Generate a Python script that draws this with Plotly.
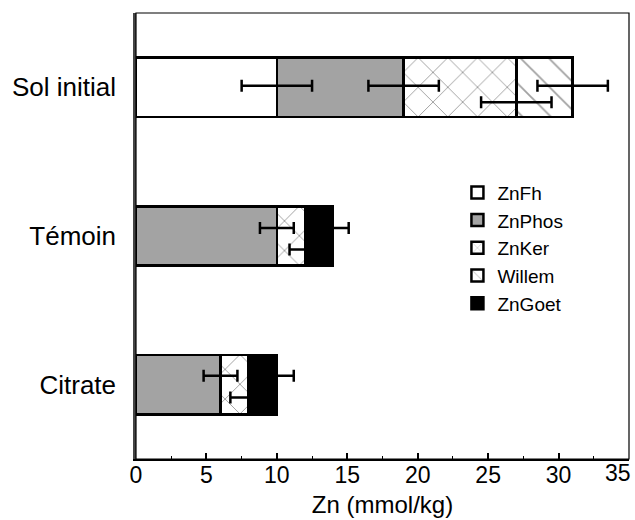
import plotly.graph_objects as go

# ---- data ----
categories = ["Citrate", "Témoin", "Sol initial"]
series_names = ["ZnFh", "ZnPhos", "ZnKer", "Willem", "ZnGoet"]
ZnFh = [None, None, 10]
ZnPhos = [6, 10, 9]
ZnKer = [2, 2, 8]
Willem = [None, None, 4]
ZnGoet = [2, 2, None]
err_ZnFh = [None, None, 2.5]
err_ZnPhos = [1.2, 1.2, 2.5]
err_ZnKer = [1.3, 1.1, 2.5]
err_Willem = [None, None, 2.5]
err_ZnGoet = [1.2, 1.1, None]
x_ticks = [0, 5, 10, 15, 20, 25, 30, 35]
x_ticktext = ["0", "5", "10", "15", "20", "25", "30", "35"]

values = [ZnFh, ZnPhos, ZnKer, Willem, ZnGoet]
errors = [err_ZnFh, err_ZnPhos, err_ZnKer, err_Willem, err_ZnGoet]

# ---- style ----
FONT = "Arial, 'Liberation Sans', sans-serif"
TICK_SIZE = 23
styles = {
    "ZnFh": dict(color="white", pattern=dict(shape="")),
    "ZnPhos": dict(color="#a3a3a3", pattern=dict(shape="")),
    "ZnKer": dict(color="white", pattern=dict(shape="x", fgcolor="#444444", size=21, solidity=0.09)),
    "Willem": dict(color="white", pattern=dict(shape="\\", fgcolor="#444444", size=20, solidity=0.09)),
    "ZnGoet": dict(color="black", pattern=dict(shape="")),
}
# vertical offsets of error bars within each bar (category units), per category
err_offsets = {
    "ZnFh": [0, 0, 0.01],
    "ZnPhos": [0.06, 0.054, 0.01],
    "ZnKer": [-0.086, -0.09, -0.1],
    "Willem": [0, 0, 0.01],
    "ZnGoet": [0.06, 0.054, 0],
}

ypos = list(range(len(categories)))

fig = go.Figure()
for name, vals in zip(series_names, values):
    st = styles[name]
    fig.add_trace(go.Bar(
        y=ypos, x=vals, orientation="h", name=name, width=0.4,
        marker=dict(color=st["color"], pattern=st["pattern"],
                    line=dict(color="black", width=2.5)),
    ))

# error bars at the cumulative end of each segment
cum = [0.0] * len(categories)
for name, vals, errs in zip(series_names, values, errors):
    ends = []
    for i, v in enumerate(vals):
        cum[i] += (v or 0)
        ends.append(cum[i])
    xs, ys, es = [], [], []
    for i, e in enumerate(errs):
        if e is not None:
            xs.append(ends[i])
            ys.append(ypos[i] + err_offsets[name][i])
            es.append(e)
    fig.add_trace(go.Scatter(
        x=xs, y=ys, mode="markers", showlegend=False,
        marker=dict(size=0.1, color="black"),
        error_x=dict(type="data", array=es, visible=True, color="black",
                     thickness=2.5, width=6),
        hoverinfo="skip",
    ))

fig.update_layout(
    width=635, height=520,
    margin=dict(l=136, r=6, t=13, b=61, autoexpand=False),
    barmode="stack",
    plot_bgcolor="white", paper_bgcolor="white",
    font=dict(family=FONT, color="black"),
    showlegend=True,
    legend=dict(x=0.652, y=0.64, xanchor="left", yanchor="top",
                traceorder="normal", font=dict(size=19),
                bgcolor="rgba(0,0,0,0)", itemwidth=30, tracegroupgap=0),
    xaxis=dict(
        range=[0, 35], tickvals=x_ticks[:-1], ticktext=x_ticktext[:-1],
        ticks="inside", ticklen=6, tickwidth=1.5,
        tickcolor="black", showline=True, linecolor="black", linewidth=2,
        showgrid=False, zeroline=False, tickfont=dict(size=TICK_SIZE),
        minor=dict(dtick=2.5, ticks="inside", ticklen=3, tickwidth=1.2, tickcolor="black"),
        title=dict(text="Zn (mmol/kg)", font=dict(size=24), standoff=10),
        automargin=False, ticklabelstandoff=-6,
    ),
    yaxis=dict(
        range=[-0.5, 2.5], tickvals=ypos, ticktext=categories, ticks="",
        showline=True, linecolor="#444444", linewidth=2.5,
        showgrid=False, zeroline=False, tickfont=dict(size=26),
        ticklabelstandoff=12, automargin=False,
    ),
    shapes=[dict(type="rect", xref="paper", yref="paper", x0=0, x1=1, y0=0, y1=1,
                 line=dict(color="black", width=1.2), layer="above")],
    annotations=[dict(x=x_ticks[-1], xref="x", y=0, yref="paper", text=x_ticktext[-1],
                      showarrow=False, xanchor="right", yanchor="top", xshift=4, yshift=1,
                      font=dict(size=TICK_SIZE, family=FONT, color="black"))],
)

fig.write_html("out.html", config={"displayModeBar": False},
               post_script="document.body.style.margin='0';document.body.style.overflow='hidden';")
